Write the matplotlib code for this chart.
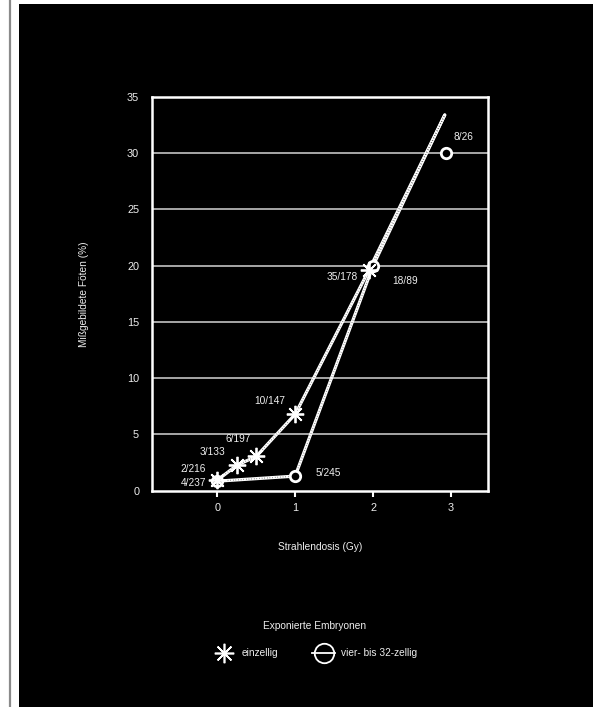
import matplotlib
matplotlib.use("Agg")
import matplotlib.pyplot as plt
from matplotlib.lines import Line2D
from matplotlib.patches import Rectangle

plt.rcParams['font.family'] = ['Liberation Sans', 'DejaVu Sans']

# Malformation rate after irradiation, by embryo stage at exposure
einzellig_dose = [0.0, 0.25, 0.5, 1.0, 1.95]
einzellig_pct = [0.93, 2.26, 3.05, 6.8, 19.66]
einzellig_labels = ["2/216", "3/133", "6/197", "10/147", "35/178"]

vielzellig_dose = [0.0, 1.0, 2.0, 2.93]
vielzellig_pct = [0.85, 1.3, 20.0, 30.0]
vielzellig_labels = ["4/237", "5/245", "18/89", "8/26"]

# hand-drawn trend lines (each ends at the common upper end point)
trend_end_dose = 2.92
trend_end_pct = 33.4

x_ticks = [0, 1, 2, 3]
y_ticks = [0, 5, 10, 15, 20, 25, 30, 35]

FG = "white"
TXT = "#eeeeee"

fig = plt.figure(figsize=(5.93, 7.07), dpi=100, facecolor="black")

# white margin with a grey rule on the left, thin white strip on top
fig.patches.append(Rectangle((0, 0), 19 / 593, 1, transform=fig.transFigure,
                             facecolor="white", edgecolor="none", zorder=0))
fig.patches.append(Rectangle((0, 1 - 4 / 707), 1, 4 / 707, transform=fig.transFigure,
                             facecolor="white", edgecolor="none", zorder=0))
fig.lines.append(Line2D([9.5 / 593, 9.5 / 593], [0, 1], transform=fig.transFigure,
                        color="#8a8a8a", lw=1.6, zorder=1))

ax = fig.add_axes([0.2558, 0.3059, 0.5671, 0.5569], facecolor="black")
ax.set_xlim(-0.842, 3.475)
ax.set_ylim(0, 35)

for s in ax.spines.values():
    s.set_color(FG)
    s.set_linewidth(1.8)

ax.set_xticks(x_ticks)
ax.set_yticks(y_ticks)
ax.tick_params(axis="x", colors=FG, labelcolor=TXT, direction="out", length=4.5,
               width=1.5, pad=4, labelsize=7.8)
ax.tick_params(axis="y", length=0, pad=9, labelcolor=TXT, labelsize=7.8)

for yv in y_ticks[1:-1]:
    ax.axhline(yv, color="#d4d4d4", lw=1.1, zorder=1)


def chalk_line(xs, ys):
    ax.plot(xs, ys, color=FG, lw=2.3, solid_capstyle="round", zorder=3)
    ax.plot(xs, ys, color="black", lw=0.9, alpha=0.7,
            linestyle=(0, (0.4, 1.7)), zorder=4)


chalk_line(einzellig_dose + [trend_end_dose], einzellig_pct + [trend_end_pct])
chalk_line(vielzellig_dose[:3] + [trend_end_dose], vielzellig_pct[:3] + [trend_end_pct])

ax.plot(einzellig_dose, einzellig_pct, linestyle="none", marker=(8, 2, 0),
        ms=12.5, mew=1.3, color=FG, zorder=6)
ax.plot(vielzellig_dose, vielzellig_pct, linestyle="none", marker="o",
        ms=7.5, mew=2.0, mfc="black", mec=FG, zorder=5)

# fraction labels (offsets in points from each marker)
e_off = [(-8, 8), (-8.5, 9.4), (-3.8, 12.3), (-7.3, 9.7), (-8, -5.6)]
v_off = [(-8, -1), (15, 2), (13.6, -10.8), (6.1, 11.9)]
for xv, yv, lab, (dx, dy) in zip(einzellig_dose, einzellig_pct, einzellig_labels, e_off):
    ax.annotate(lab, (xv, yv), xytext=(dx, dy), textcoords="offset points",
                ha="right", va="center", fontsize=7.3, color=TXT, zorder=7)
for xv, yv, lab, (dx, dy) in zip(vielzellig_dose, vielzellig_pct, vielzellig_labels, v_off):
    ax.annotate(lab, (xv, yv), xytext=(dx, dy), textcoords="offset points",
                ha="right" if dx < 0 else "left", va="center", fontsize=7.3,
                color=TXT, zorder=7)

ax.set_xlabel("Strahlendosis (Gy)", fontsize=7.3, color=TXT, labelpad=21)
ax.set_ylabel("Mißgebildete Föten (%)", fontsize=7.3, color=TXT, labelpad=27)

handles = [
    Line2D([], [], linestyle="none", marker=(8, 2, 0), ms=14, mew=1.2, color=FG),
    Line2D([], [], linestyle="-", lw=1.3, marker="o", ms=14, mfc="none",
           mew=1.3, color=FG),
]
leg = fig.legend(handles, ["einzellig", "vier- bis 32-zellig"],
                 title="Exponierte Embryonen", loc="center",
                 bbox_to_anchor=(0.531, 0.0955), ncol=2, frameon=False,
                 fontsize=7.3, title_fontsize=7.3, handlelength=2.3,
                 handletextpad=0.6, columnspacing=3.3, labelspacing=1.7,
                 numpoints=1)
leg.get_title().set_color(TXT)
for t in leg.get_texts():
    t.set_color(TXT)

fig.savefig("out.png", dpi=100, facecolor=fig.get_facecolor())
